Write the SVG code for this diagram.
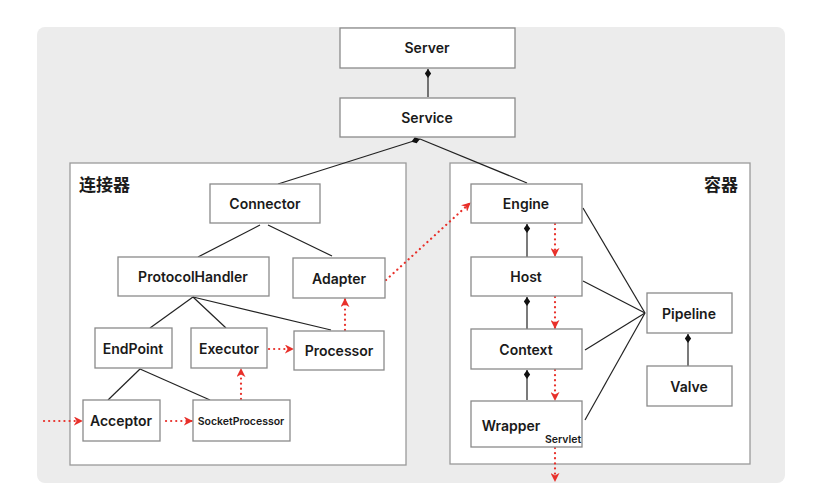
<svg xmlns="http://www.w3.org/2000/svg" width="828" height="499" viewBox="0 0 828 499">
<style>
.box{fill:#fff;stroke:#8a8a8a;stroke-width:1.3}
.panel{fill:#fff;stroke:#9a9a9a;stroke-width:1.3}
.t{font-family:Inter,"Liberation Sans",sans-serif;font-size:14px;font-weight:600;fill:#1a1a1a;text-anchor:middle}
.s{font-family:Inter,"Liberation Sans",sans-serif;font-size:10.5px;font-weight:600;fill:#1a1a1a;text-anchor:middle}
.cn{font-family:"Noto Sans CJK SC",sans-serif;font-size:17px;font-weight:600;fill:#1a1a1a}
.ln{stroke:#222;stroke-width:1.2;fill:none}
.rd{stroke:#e8302a;stroke-width:2.2;stroke-dasharray:0.1 5;stroke-linecap:round;fill:none}
</style>
<defs>
<marker id="ar" viewBox="0 0 10 10" refX="9" refY="5" markerWidth="9" markerHeight="9" markerUnits="userSpaceOnUse" orient="auto">
<path d="M0,0 L10,5 L0,10 L3,5 Z" fill="#e8302a"/>
</marker>
<marker id="dm" viewBox="0 0 10 10" refX="0" refY="5" markerWidth="9" markerHeight="9" markerUnits="userSpaceOnUse" orient="auto">
<path d="M0,5 L5,1.5 L10,5 L5,8.5 Z" fill="#111"/>
</marker>
</defs>
<rect x="37" y="27" width="748" height="456" rx="8" fill="#ececec"/>
<rect class="panel" x="70" y="163" width="336" height="302"/>
<rect class="panel" x="450" y="163" width="300" height="301"/>
<text class="cn" x="79" y="191">连接器</text>
<text class="cn" x="704" y="191">容器</text>

<g id="connectors">
<line class="ln" x1="428" y1="69" x2="428" y2="97" marker-start="url(#dm)"/>
<line class="ln" x1="420" y1="139" x2="278" y2="184" marker-start="url(#dm)"/>
<line class="ln" x1="420" y1="139" x2="527" y2="183"/>
<line class="ln" x1="260" y1="225" x2="198" y2="257"/>
<line class="ln" x1="268" y1="225" x2="332" y2="256"/>
<line class="ln" x1="193" y1="297" x2="150" y2="328"/>
<line class="ln" x1="193" y1="297" x2="226" y2="328"/>
<line class="ln" x1="193" y1="297" x2="331" y2="330"/>
<line class="ln" x1="140" y1="369" x2="108" y2="400"/>
<line class="ln" x1="140" y1="369" x2="210" y2="400"/>
<line class="ln" x1="527" y1="224" x2="527" y2="257" marker-start="url(#dm)"/>
<line class="ln" x1="527" y1="297" x2="527" y2="329" marker-start="url(#dm)"/>
<line class="ln" x1="527" y1="370" x2="527" y2="400" marker-start="url(#dm)"/>
<line class="ln" x1="688" y1="334" x2="688" y2="366" marker-start="url(#dm)"/>
<line class="ln" x1="583" y1="208" x2="645" y2="313"/>
<line class="ln" x1="583" y1="281" x2="645" y2="313"/>
<line class="ln" x1="585" y1="350" x2="645" y2="313"/>
<line class="ln" x1="585" y1="420" x2="645" y2="313"/>
<line class="rd" x1="44" y1="421" x2="82" y2="421" marker-end="url(#ar)"/>
<line class="rd" x1="166" y1="421" x2="192" y2="421" marker-end="url(#ar)"/>
<line class="rd" x1="241" y1="399" x2="241" y2="369" marker-end="url(#ar)"/>
<line class="rd" x1="269" y1="349" x2="293" y2="349" marker-end="url(#ar)"/>
<line class="rd" x1="345" y1="330" x2="345" y2="299" marker-end="url(#ar)"/>
<line class="rd" x1="386" y1="280" x2="470" y2="203" marker-end="url(#ar)"/>
<line class="rd" x1="555" y1="224" x2="555" y2="256" marker-end="url(#ar)"/>
<line class="rd" x1="555" y1="297" x2="555" y2="328" marker-end="url(#ar)"/>
<line class="rd" x1="555" y1="370" x2="555" y2="400" marker-end="url(#ar)"/>
<line class="rd" x1="555" y1="448" x2="555" y2="481" marker-end="url(#ar)"/>
</g>

<g id="server"><rect class="box" x="340" y="28" width="175" height="40"/><text class="t" x="427" y="53">Server</text></g>
<g id="service"><rect class="box" x="340" y="98" width="175" height="39"/><text class="t" x="427" y="123">Service</text></g>
<g id="connector"><rect class="box" x="210" y="184" width="110" height="39"/><text class="t" x="265" y="209">Connector</text></g>
<g id="protocolhandler"><rect class="box" x="118" y="257" width="151" height="39"/><text class="t" x="193" y="282">ProtocolHandler</text></g>
<g id="adapter"><rect class="box" x="293" y="258" width="92" height="40"/><text class="t" x="339" y="284">Adapter</text></g>
<g id="endpoint"><rect class="box" x="95" y="328" width="77" height="40"/><text class="t" x="133" y="354">EndPoint</text></g>
<g id="executor"><rect class="box" x="191" y="328" width="76" height="40"/><text class="t" x="229" y="354">Executor</text></g>
<g id="processor"><rect class="box" x="294" y="331" width="90" height="39"/><text class="t" x="339" y="356">Processor</text></g>
<g id="acceptor"><rect class="box" x="83" y="400" width="77" height="41"/><text class="t" x="121" y="426">Acceptor</text></g>
<g id="socketprocessor"><rect class="box" x="193" y="400" width="97" height="41"/><text class="s" x="241" y="425">SocketProcessor</text></g>
<g id="engine"><rect class="box" x="471" y="184" width="111" height="39"/><text class="t" x="526" y="209">Engine</text></g>
<g id="host"><rect class="box" x="471" y="257" width="111" height="39"/><text class="t" x="526" y="282">Host</text></g>
<g id="context"><rect class="box" x="471" y="329" width="111" height="40"/><text class="t" x="526" y="355">Context</text></g>
<g id="wrapper"><rect class="box" x="471" y="401" width="111" height="46"/><text class="t" x="511" y="431">Wrapper</text><text class="s" x="563" y="443">Servlet</text></g>
<g id="pipeline"><rect class="box" x="647" y="293" width="85" height="40"/><text class="t" x="689" y="319">Pipeline</text></g>
<g id="valve"><rect class="box" x="647" y="366" width="85" height="40"/><text class="t" x="689" y="392">Valve</text></g>
</svg>
